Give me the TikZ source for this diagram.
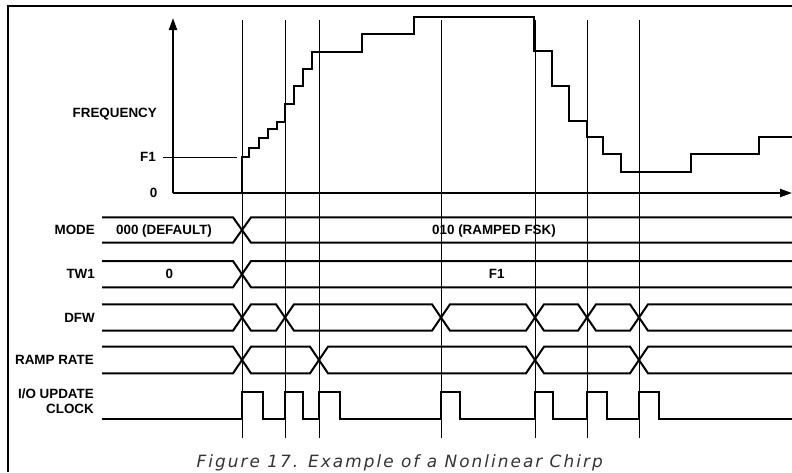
\documentclass[tikz,border=0pt]{standalone}
\usepackage{fontspec}
\setmainfont{Liberation Sans}
\newfontfamily\capfont[LetterSpace=12]{DejaVu Sans}
\usetikzlibrary{arrows.meta}
\tikzset{
  wave/.style={line width=2pt, line join=miter},
  marker/.style={line width=0.9pt},
  axis/.style={line width=2pt, -{Triangle[length=12pt,width=8pt]}},
  labfont/.style={font=\fontsize{13.4}{15.7}\selectfont\bfseries, inner sep=0pt},
  lab/.style={labfont, text height=9.5pt, text depth=0pt},
}
\begin{document}
\begin{tikzpicture}[x=1pt,y=-1pt]%
\useasboundingbox (0,0) rectangle (792,472);%
\draw[line width=2pt] (8.3,472) |- (792,5.7);%
%
% time markers
\foreach \t in {242,285,319,441,535,587,639}%
  \draw[marker] (\t,20) -- (\t,438);%
%
% frequency plot
\coordinate (origin) at (173,193);%
\draw[axis] (origin) -- (173,18);%
\draw[axis] (origin) -- (792,193);%
\draw[wave] (242,193) -- (242,157) -| (249.3,147.7) -| (259.3,138.3) -| (267.7,129.3) -| (276.7,121.7)%
  -| (285,104) -| (294,86) -| (302.7,69) -| (311.7,51.7) -| (361.7,34.3) -| (414.3,16.7)%
  -| (534,51) -| (551.7,86) -| (569,120.7) -| (586.7,136.7) -| (603.3,154.3) -| (620.7,171.7)%
  -| (690.7,154.3) -| (759,136.7) -- (792,136.7);%
\node[lab,anchor=east] (freq) at (157,113) {FREQUENCY};%
\node[lab,anchor=east] (f1) at (156,157) {F1};%
\node[lab,anchor=east] (zero) at (157.5,193) {0};%
\draw[marker] ([xshift=7pt]f1.east) -- (237,157);%
%
\def\rowtop{217.3}%
\def\rowbot{242.7}%
\def\rowmid{230}%
\def\crossings{242,900}%
\begin{scope}%
\clip (102,\rowtop-5) rectangle (792,\rowbot+5);%
\foreach \c [remember=\c as \p (initially 40)] in \crossings%
  \draw[wave] (\p,\rowmid) -- (\p+9,\rowtop) -- (\c-9,\rowtop) -- (\c,\rowmid) -- (\c-9,\rowbot) -- (\p+9,\rowbot) -- cycle;%
\end{scope}%
\node[lab,anchor=east] (mode) at (95,\rowmid) {MODE};%
\node[lab] (modeold) at (164,\rowmid) {000 (DEFAULT)};%
\node[lab] (modenew) at (494,\rowmid) {010 (RAMPED FSK)};%
%
\def\rowtop{261}%
\def\rowbot{287.3}%
\def\rowmid{274.2}%
\def\crossings{242,900}%
\begin{scope}%
\clip (102,\rowtop-5) rectangle (792,\rowbot+5);%
\foreach \c [remember=\c as \p (initially 40)] in \crossings%
  \draw[wave] (\p,\rowmid) -- (\p+9,\rowtop) -- (\c-9,\rowtop) -- (\c,\rowmid) -- (\c-9,\rowbot) -- (\p+9,\rowbot) -- cycle;%
\end{scope}%
\node[lab,anchor=east] (tw) at (95,\rowmid) {TW1};%
\node[lab] (twold) at (169.3,\rowmid) {0};%
\node[lab] (twnew) at (496.7,\rowmid) {F1};%
%
\def\rowtop{304.3}%
\def\rowbot{330.7}%
\def\rowmid{317.5}%
\def\crossings{242,285,441,535,587,639,900}%
\begin{scope}%
\clip (102,\rowtop-5) rectangle (792,\rowbot+5);%
\foreach \c [remember=\c as \p (initially 40)] in \crossings%
  \draw[wave] (\p,\rowmid) -- (\p+9,\rowtop) -- (\c-9,\rowtop) -- (\c,\rowmid) -- (\c-9,\rowbot) -- (\p+9,\rowbot) -- cycle;%
\end{scope}%
\node[lab,anchor=east] (dfw) at (95,\rowmid) {DFW};%
%
\def\rowtop{346.7}%
\def\rowbot{373.3}%
\def\rowmid{360}%
\def\crossings{242,319,535,639,900}%
\begin{scope}%
\clip (102,\rowtop-5) rectangle (792,\rowbot+5);%
\foreach \c [remember=\c as \p (initially 40)] in \crossings%
  \draw[wave] (\p,\rowmid) -- (\p+9,\rowtop) -- (\c-9,\rowtop) -- (\c,\rowmid) -- (\c-9,\rowbot) -- (\p+9,\rowbot) -- cycle;%
\end{scope}%
\node[lab,anchor=east] (ramp) at (94,\rowmid) {RAMP RATE};%
%
\def\clklo{419.3}%
\def\clkhi{392.3}%
\draw[wave] (102,\clklo) foreach \r/\f in {242/263.3,285/303.3,319/340,441/460,535/553.3,587/607.3,639/659.3}%
  { -- (\r,\clklo) -- (\r,\clkhi) -- (\f,\clkhi) -- (\f,\clklo) } -- (792,\clklo);%
\node[labfont,anchor=east,align=right] (clk) at (94,401.2) {I/O UPDATE\\CLOCK};%
%
\node[anchor=base, inner sep=0pt, text=black!80, font=\capfont\itshape\fontsize{16.9}{20}\selectfont] (caption) at (399.7,467.3) {Figure 17. Example of a Nonlinear Chirp};%
\end{tikzpicture}
\end{document}
